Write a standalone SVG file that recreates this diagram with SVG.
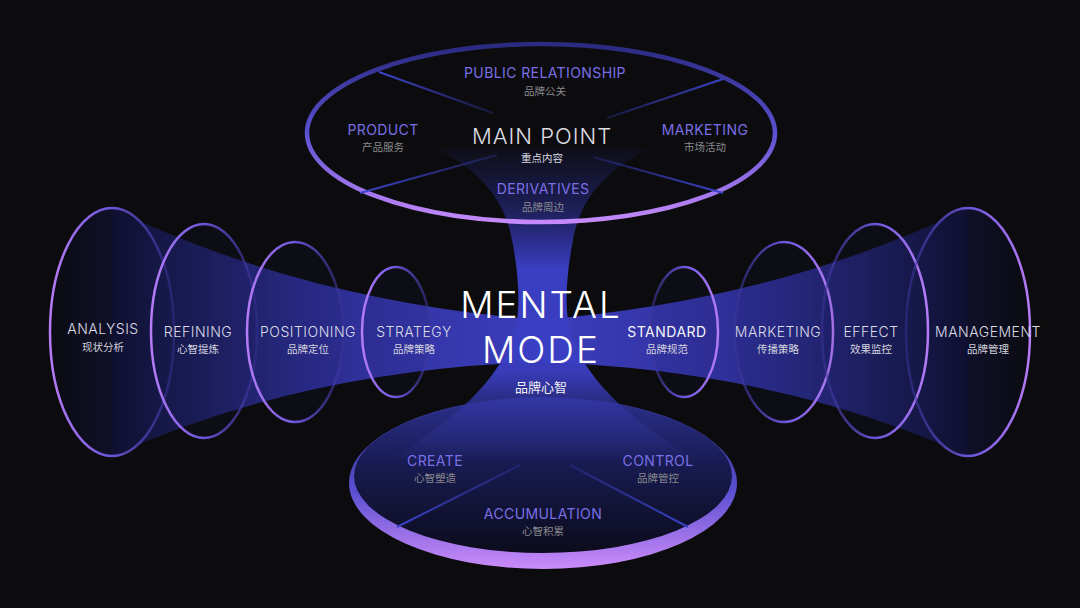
<svg xmlns="http://www.w3.org/2000/svg" width="1080" height="608" viewBox="0 0 1080 608">
<defs>
<style>
.en{font-family:Inter,"Noto Sans","Liberation Sans",sans-serif;text-anchor:middle;font-weight:300}
.cn{font-family:"Noto Sans CJK SC","Noto Sans",sans-serif;text-anchor:middle;font-size:10.5px}
.side{font-size:14px;fill:#dcdce6;letter-spacing:0.5px}
.sidecn{fill:#d4d4de}
.pur{font-size:14px;fill:#7a6fe6;letter-spacing:0.4px;font-weight:400}
.gray{fill:#8a8a8e}
.div{stroke-width:2;fill:none}
</style>
<linearGradient id="topStroke" x1="0" y1="0" x2="0" y2="1">
<stop offset="0" stop-color="#2a2a80"/>
<stop offset="0.5" stop-color="#5a50d0"/>
<stop offset="1" stop-color="#c68afa"/>
</linearGradient>
<linearGradient id="rimGrad" x1="0" y1="0" x2="0" y2="1">
<stop offset="0" stop-color="#2a2c80"/>
<stop offset="0.55" stop-color="#5b4fd0"/>
<stop offset="1" stop-color="#cc8cfa"/>
</linearGradient>
<linearGradient id="diskGrad" x1="0" y1="0" x2="0" y2="1">
<stop offset="0" stop-color="#2b2f8c"/>
<stop offset="0.45" stop-color="#171a4e"/>
<stop offset="1" stop-color="#0c0c1c"/>
</linearGradient>
<linearGradient id="bandGrad" gradientUnits="userSpaceOnUse" x1="112" y1="0" x2="968" y2="0">
<stop offset="0" stop-color="#0f1030"/>
<stop offset="0.1" stop-color="#1b1d58"/>
<stop offset="0.22" stop-color="#292b88"/>
<stop offset="0.33" stop-color="#3334a4"/>
<stop offset="0.5" stop-color="#3b3dbc"/>
<stop offset="0.67" stop-color="#3334a4"/>
<stop offset="0.78" stop-color="#292b88"/>
<stop offset="0.9" stop-color="#1b1d58"/>
<stop offset="1" stop-color="#0f1030"/>
</linearGradient>
<linearGradient id="vGrad" gradientUnits="userSpaceOnUse" x1="0" y1="140" x2="0" y2="462">
<stop offset="0" stop-color="#2c2f98" stop-opacity="0"/>
<stop offset="0.2" stop-color="#2c2f98" stop-opacity="0.5"/>
<stop offset="0.4" stop-color="#3a3ec2" stop-opacity="1"/>
<stop offset="0.72" stop-color="#3a3ec2" stop-opacity="0.95"/>
<stop offset="0.88" stop-color="#2e3292" stop-opacity="0.6"/>
<stop offset="1" stop-color="#2e3292" stop-opacity="0"/>
</linearGradient>
<linearGradient id="strokeL" x1="0" y1="0" x2="1" y2="0">
<stop offset="0" stop-color="#b67cf8"/>
<stop offset="0.5" stop-color="#6a55d8"/>
<stop offset="1" stop-color="#3a3498" stop-opacity="0.5"/>
</linearGradient>
<linearGradient id="strokeR" x1="1" y1="0" x2="0" y2="0">
<stop offset="0" stop-color="#b67cf8"/>
<stop offset="0.5" stop-color="#6a55d8"/>
<stop offset="1" stop-color="#3a3498" stop-opacity="0.5"/>
</linearGradient>
<linearGradient id="fillL" x1="0" y1="0" x2="1" y2="0">
<stop offset="0" stop-color="#0b0b12"/>
<stop offset="1" stop-color="#14153f"/>
</linearGradient>
<linearGradient id="fillR" x1="1" y1="0" x2="0" y2="0">
<stop offset="0" stop-color="#0b0b12"/>
<stop offset="1" stop-color="#14153f"/>
</linearGradient>
<linearGradient id="fadeR" x1="0" y1="0" x2="1" y2="0">
<stop offset="0" stop-color="#3a42c8"/>
<stop offset="1" stop-color="#3a42c8" stop-opacity="0.25"/>
</linearGradient>
<linearGradient id="fadeL" x1="1" y1="0" x2="0" y2="0">
<stop offset="0" stop-color="#3a42c8"/>
<stop offset="1" stop-color="#3a42c8" stop-opacity="0.25"/>
</linearGradient>
</defs>
<rect width="1080" height="608" fill="#0c0c0e"/>

<g id="band">
<ellipse cx="112" cy="332" rx="62" ry="124" fill="url(#fillL)"/>
<ellipse cx="968" cy="332" rx="62" ry="124" fill="url(#fillR)"/>
<path d="M112,208 Q300,300 540,320 Q780,300 968,208 L968,456 Q780,370 540,362 Q300,370 112,456 Z" fill="url(#bandGrad)"/>
</g>

<g id="bottom-disk">
<ellipse cx="543" cy="483" rx="194" ry="86" fill="url(#rimGrad)"/>
<ellipse cx="543" cy="476" rx="189" ry="77" fill="url(#diskGrad)"/>
</g>

<path id="hourglass" d="M435,148 C480,170 505,200 512,240 C518,270 520,300 517,320 C512,350 495,375 470,400 C450,420 420,440 395,458 L690,458 C665,440 635,420 615,400 C590,375 573,350 568,320 C565,300 567,270 573,240 C580,200 605,170 650,148 Z" fill="url(#vGrad)"/>

<g id="top-ring">
<ellipse cx="541" cy="133" rx="234" ry="89" fill="none" stroke="url(#topStroke)" stroke-width="4.5"/>
</g>

<g id="connectors">
<line class="div" x1="379" y1="72" x2="493" y2="113" stroke="url(#fadeR)"/>
<line class="div" x1="723" y1="79" x2="607" y2="118" stroke="url(#fadeL)"/>
<line class="div" x1="360" y1="193" x2="497" y2="155" stroke="url(#fadeR)"/>
<line class="div" x1="723" y1="193" x2="593" y2="157" stroke="url(#fadeL)"/>
<line class="div" x1="397" y1="527" x2="520" y2="465" stroke="url(#fadeR)"/>
<line class="div" x1="688" y1="527" x2="570" y2="465" stroke="url(#fadeL)"/>
</g>

<g id="analysis">
<ellipse cx="112" cy="332" rx="62" ry="124" fill="none" stroke="url(#strokeL)" stroke-width="2.5"/>
<text class="en side" x="103" y="334">ANALYSIS</text>
<text class="cn sidecn" x="103" y="351">现状分析</text>
</g>
<g id="refining">
<ellipse cx="204" cy="331" rx="53" ry="107" fill="#1a1a55" fill-opacity="0.12" stroke="url(#strokeL)" stroke-width="2.5"/>
<text class="en side" x="198" y="337">REFINING</text>
<text class="cn sidecn" x="198" y="353">心智提炼</text>
</g>
<g id="positioning">
<ellipse cx="295" cy="332" rx="48" ry="90" fill="#1a1a55" fill-opacity="0.12" stroke="url(#strokeL)" stroke-width="2.5"/>
<text class="en side" x="308" y="337">POSITIONING</text>
<text class="cn sidecn" x="308" y="353">品牌定位</text>
</g>
<g id="strategy">
<ellipse cx="396" cy="332" rx="34" ry="65" fill="#1a1a55" fill-opacity="0.12" stroke="url(#strokeL)" stroke-width="2.5"/>
<text class="en side" x="414" y="337">STRATEGY</text>
<text class="cn sidecn" x="414" y="353">品牌策略</text>
</g>
<g id="standard">
<ellipse cx="684" cy="332" rx="34" ry="65" fill="#1a1a55" fill-opacity="0.12" stroke="url(#strokeR)" stroke-width="2.5"/>
<text class="en side" x="667" y="337" style="fill:#f4f4fa;font-weight:400">STANDARD</text>
<text class="cn sidecn" x="667" y="353">品牌规范</text>
</g>
<g id="marketing-side">
<ellipse cx="784" cy="332" rx="49" ry="90" fill="#1a1a55" fill-opacity="0.12" stroke="url(#strokeR)" stroke-width="2.5"/>
<text class="en side" x="778" y="337">MARKETING</text>
<text class="cn sidecn" x="778" y="353">传播策略</text>
</g>
<g id="effect">
<ellipse cx="875" cy="331" rx="53" ry="107" fill="#1a1a55" fill-opacity="0.12" stroke="url(#strokeR)" stroke-width="2.5"/>
<text class="en side" x="871" y="337">EFFECT</text>
<text class="cn sidecn" x="871" y="353">效果监控</text>
</g>
<g id="management">
<ellipse cx="968" cy="332" rx="62" ry="124" fill="none" stroke="url(#strokeR)" stroke-width="2.5"/>
<text class="en side" x="988" y="337">MANAGEMENT</text>
<text class="cn sidecn" x="988" y="353">品牌管理</text>
</g>

<g id="public-relationship">
<text class="en pur" x="545" y="78">PUBLIC RELATIONSHIP</text>
<text class="cn gray" x="545" y="95">品牌公关</text>
</g>
<g id="product">
<text class="en pur" x="383" y="135">PRODUCT</text>
<text class="cn gray" x="383" y="151">产品服务</text>
</g>
<g id="marketing-top">
<text class="en pur" x="705" y="135">MARKETING</text>
<text class="cn gray" x="705" y="151">市场活动</text>
</g>
<g id="main-point">
<text class="en" x="542" y="144" font-size="22" fill="#dcdce4" letter-spacing="1">MAIN POINT</text>
<text class="cn" x="542" y="162" fill="#d8d8e0">重点内容</text>
</g>
<g id="derivatives">
<text class="en pur" x="543" y="194">DERIVATIVES</text>
<text class="cn gray" x="543" y="211">品牌周边</text>
</g>

<g id="mental-mode">
<text class="en" x="541" y="318" font-size="37" fill="#ffffff" letter-spacing="2">MENTAL</text>
<text class="en" x="541" y="363" font-size="37" fill="#ffffff" letter-spacing="2">MODE</text>
<text class="cn" x="541" y="392" style="font-size:13px" fill="#f0f0f5">品牌心智</text>
</g>

<g id="create">
<text class="en pur" x="435" y="466">CREATE</text>
<text class="cn gray" x="435" y="482">心智塑造</text>
</g>
<g id="control">
<text class="en pur" x="658" y="466">CONTROL</text>
<text class="cn gray" x="658" y="482">品牌管控</text>
</g>
<g id="accumulation">
<text class="en pur" x="543" y="519">ACCUMULATION</text>
<text class="cn gray" x="543" y="535">心智积累</text>
</g>
</svg>
